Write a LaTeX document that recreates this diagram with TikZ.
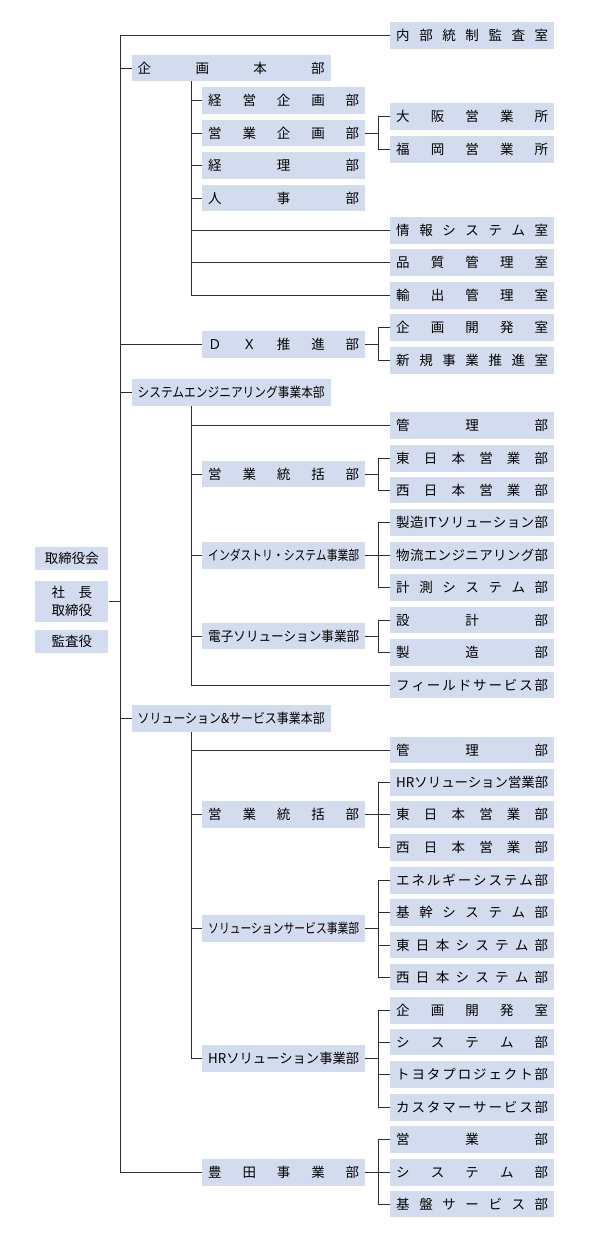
\documentclass[tikz,border=0pt]{standalone}
\usepackage{fontspec}
\usepackage{graphicx}
\setmainfont{Noto Sans CJK JP}
\definecolor{boxfill}{RGB}{211,219,238}
\definecolor{linecol}{RGB}{45,45,45}
\makeatletter
\def\spr#1{\sprA#1\relax}
\def\sprA#1{#1\sprB}
\def\sprB#1{\ifx\relax#1\else\hfil#1\expandafter\sprB\fi}
\makeatother
\newcommand\lbl[2]{\sbox0{#2}\ifdim\wd0>#1\relax\resizebox{#1}{\height}{#2}\else\makebox[#1][s]{\spr{#2}}\fi}
\tikzset{
  basebox/.style={rectangle, fill=boxfill, draw=none, inner ysep=0pt, minimum height=26.5pt,
    font=\fontsize{13.5pt}{19pt}\selectfont, anchor=west},
  rbox/.style={basebox, inner xsep=6pt},
  mbox/.style={basebox, inner xsep=6pt},
  tbox/.style={basebox, inner xsep=6pt},
  lbox/.style={rectangle, fill=boxfill, draw=none, inner sep=0pt, minimum width=73pt,
    font=\fontsize{13.5pt}{19pt}\selectfont, align=center},
  conn/.style={draw=linecol, line width=1pt}
}
\newcommand\RB[3]{\node[rbox] (#1) at (390,#2) {\lbl{152pt}{#3}};}
\newcommand\MB[3]{\node[mbox] (#1) at (202,#2) {\lbl{151pt}{#3}};}
\newcommand\TB[3]{\node[tbox] (#1) at (131.5,#2) {\lbl{187pt}{#3}};}
\begin{document}
\begin{tikzpicture}[x=1pt,y=-1pt]
\useasboundingbox (0,0) rectangle (591,1240);
% right column
\RB{naibu}{35.3}{内部統制監査室}
\RB{osaka}{116.5}{大阪営業所}
\RB{fukuoka}{149.3}{福岡営業所}
\RB{joho}{230.3}{情報システム室}
\RB{hinshitsu}{262.7}{品質管理室}
\RB{yushutsu}{295.3}{輸出管理室}
\RB{kikakukaihatsu}{327.7}{企画開発室}
\RB{shinki}{360.3}{新規事業推進室}
\RB{kanriA}{425.3}{管理部}
\RB{higashiA}{458.7}{東日本営業部}
\RB{nishiA}{490}{西日本営業部}
\RB{seizoit}{522.7}{製造ITソリューション部}
\RB{butsuryu}{555.3}{物流エンジニアリング部}
\RB{keisoku}{587.3}{計測システム部}
\RB{sekkei}{620}{設計部}
\RB{seizo}{652.7}{製造部}
\RB{field}{685}{フィールドサービス部}
\RB{kanriB}{750}{管理部}
\RB{hrsales}{782.7}{HRソリューション営業部}
\RB{higashiB}{814.3}{東日本営業部}
\RB{nishiB}{847.3}{西日本営業部}
\RB{energy}{880.3}{エネルギーシステム部}
\RB{kikan}{912.3}{基幹システム部}
\RB{higashisys}{945}{東日本システム部}
\RB{nishisys}{977}{西日本システム部}
\RB{kikakuB}{1010.3}{企画開発室}
\RB{sysA}{1042}{システム部}
\RB{toyotapj}{1074.7}{トヨタプロジェクト部}
\RB{customer}{1107.3}{カスタマーサービス部}
\RB{eigyo}{1139.7}{営業部}
\RB{sysB}{1172.3}{システム部}
\RB{kiban}{1204}{基盤サービス部}
% middle column
\MB{keiei}{100.3}{経営企画部}
\MB{eigyokikaku}{133}{営業企画部}
\MB{keiri}{165.3}{経理部}
\MB{jinji}{198}{人事部}
\MB{dx}{344.3}{ＤＸ推進部}
\MB{tokatsuA}{474}{営業統括部}
\MB{industry}{555.3}{インダストリ・システム事業部}
\MB{denshi}{636}{電子ソリューション事業部}
\MB{tokatsuB}{814.3}{営業統括部}
\MB{solsvc}{928.7}{ソリューションサービス事業部}
\MB{hrsol}{1058.7}{HRソリューション事業部}
\MB{toyoda}{1172.3}{豊田事業部}
% top level
\TB{kikakuhonbu}{68}{企画本部}
\TB{sehonbu}{392.7}{システムエンジニアリング事業本部}
\TB{sshonbu}{718.3}{ソリューション\&サービス事業本部}
% left
\node[lbox, minimum height=23.3pt] (board) at (71.8,558.3) {取締役会};
\node[lbox, minimum height=41.6pt] (shacho) at (71.8,601.5) {社　長\\[-1pt]取締役};
\node[lbox, minimum height=23.3pt] (kansa) at (71.8,641.7) {監査役};
% guide coordinates
\coordinate (T) at (120.3,0);
\coordinate (U) at (191,0);
\coordinate (V) at (378.6,0);
% trunk
\draw[conn] (naibu.west) -| (T |- toyoda.west) -- (toyoda.west);
\draw[conn] (shacho.east) -- (T |- shacho.east);
\foreach \n in {kikakuhonbu,dx,sehonbu,sshonbu}
  \draw[conn] (T |- \n.west) -- (\n.west);
% 企画本部
\draw[conn] (U |- kikakuhonbu.south) |- (yushutsu.west);
\foreach \n in {keiei,eigyokikaku,keiri,jinji,joho,hinshitsu}
  \draw[conn] (U |- \n.west) -- (\n.west);
% SE本部
\draw[conn] (U |- sehonbu.south) |- (field.west);
\foreach \n in {kanriA,tokatsuA,industry,denshi}
  \draw[conn] (U |- \n.west) -- (\n.west);
% S&S本部
\draw[conn] (U |- sshonbu.south) |- (hrsol.west);
\foreach \n in {kanriB,tokatsuB,solsvc}
  \draw[conn] (U |- \n.west) -- (\n.west);
% child groups
\foreach \p/\a/\b/\mids in {eigyokikaku/osaka/fukuoka/{},
    dx/kikakukaihatsu/shinki/{},
    tokatsuA/higashiA/nishiA/{},
    industry/seizoit/keisoku/{butsuryu},
    denshi/sekkei/seizo/{},
    tokatsuB/hrsales/nishiB/{higashiB},
    solsvc/energy/nishisys/{kikan,higashisys},
    hrsol/kikakuB/customer/{sysA,toyotapj},
    toyoda/eigyo/kiban/{sysB}}{
  \draw[conn] (\p.east) -- (V |- \p.east);
  \draw[conn] (\a.west) -| (V |- \b.west) -- (\b.west);
  \foreach \m in \mids {\draw[conn] (V |- \m.west) -- (\m.west);}
}
\end{tikzpicture}
\end{document}
